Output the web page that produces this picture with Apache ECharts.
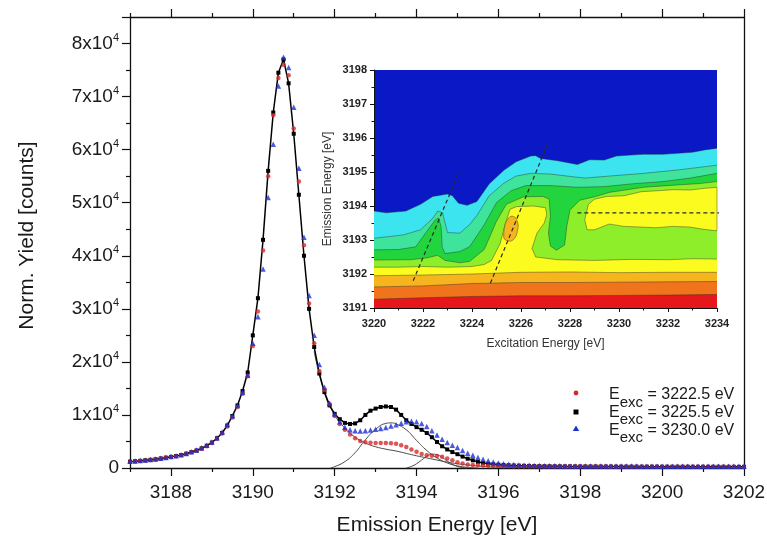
<!DOCTYPE html>
<html>
<head>
<meta charset="utf-8">
<style>
  html, body { margin: 0; padding: 0; background: #fff; }
  #chart { width: 767px; height: 536px; }
</style>
<script src="https://cdn.jsdelivr.net/npm/echarts@6/dist/echarts.min.js"></script>
</head>
<body>
<div id="chart"></div>
<script>
/* ============================================================
   RIXS spectra + contour inset
   ============================================================ */

/* ── main spectra: emission energy grid (eV) ── */
const energy = [
  3187, 3187.125, 3187.25, 3187.375, 3187.5, 3187.625, 3187.75, 3187.875,
  3188, 3188.125, 3188.25, 3188.375, 3188.5, 3188.625, 3188.75, 3188.875,
  3189, 3189.125, 3189.25, 3189.375, 3189.5, 3189.625, 3189.75, 3189.875,
  3190, 3190.125, 3190.25, 3190.375, 3190.5, 3190.625, 3190.75, 3190.875,
  3191, 3191.125, 3191.25, 3191.375, 3191.5, 3191.625, 3191.75, 3191.875,
  3192, 3192.125, 3192.25, 3192.375, 3192.5, 3192.625, 3192.75, 3192.875,
  3193, 3193.125, 3193.25, 3193.375, 3193.5, 3193.625, 3193.75, 3193.875,
  3194, 3194.125, 3194.25, 3194.375, 3194.5, 3194.625, 3194.75, 3194.875,
  3195, 3195.125, 3195.25, 3195.375, 3195.5, 3195.625, 3195.75, 3195.875,
  3196, 3196.125, 3196.25, 3196.375, 3196.5, 3196.625, 3196.75, 3196.875,
  3197, 3197.125, 3197.25, 3197.375, 3197.5, 3197.625, 3197.75, 3197.875,
  3198, 3198.125, 3198.25, 3198.375, 3198.5, 3198.625, 3198.75, 3198.875,
  3199, 3199.125, 3199.25, 3199.375, 3199.5, 3199.625, 3199.75, 3199.875,
  3200, 3200.125, 3200.25, 3200.375, 3200.5, 3200.625, 3200.75, 3200.875,
  3201, 3201.125, 3201.25, 3201.375, 3201.5, 3201.625, 3201.75, 3201.875,
  3202
];

// E_exc = 3222.5 eV
const yieldRed = [
  1150, 1250, 1330, 1420, 1520, 1630, 1760, 1920,
  2080, 2230, 2420, 2680, 2950, 3250, 3650, 4100,
  4700, 5500, 6500, 7800, 9500, 11500, 14000, 17300,
  23000, 29500, 41000, 55000, 66500, 73500, 76000, 74000,
  64000, 54000, 42000, 31000, 23500, 18300, 14700, 12000,
  9800, 8300, 7200, 6300, 5600, 5100, 4850, 4750,
  4700, 4700, 4700, 4650, 4550, 4300, 3950, 3500,
  3050, 2650, 2400, 2300, 2250, 2100, 1800, 1450,
  1100, 850, 680, 580, 500, 450, 420, 400,
  380, 370, 360, 350, 340, 330, 320, 310,
  300, 300, 290, 290, 280, 280, 280, 270,
  270, 270, 260, 260, 260, 260, 250, 250,
  250, 250, 250, 240, 240, 240, 240, 240,
  240, 230, 230, 230, 230, 230, 230, 230,
  220, 220, 220, 220, 220, 220, 220, 210,
  210
];

// E_exc = 3225.5 eV
const yieldBlack = [
  1200, 1280, 1350, 1450, 1550, 1650, 1800, 1950,
  2100, 2250, 2450, 2700, 3000, 3300, 3700, 4200,
  4800, 5600, 6600, 8000, 9800, 11800, 14500, 18000,
  25000, 32000, 43000, 56000, 67000, 74500, 77000, 72500,
  63000, 51500, 40000, 30000, 22800, 17800, 14300, 11800,
  10200, 9200, 8500, 8300, 8400, 9000, 10000, 10800,
  11200, 11500, 11600, 11500, 11000, 10000, 9000, 8300,
  7700, 7200, 6600, 5800, 4900, 4100, 3500, 3000,
  2600, 2150, 1750, 1450, 1150, 950, 800, 700,
  620, 560, 510, 470, 440, 410, 390, 370,
  350, 340, 330, 320, 310, 300, 300, 290,
  290, 280, 280, 280, 270, 270, 270, 260,
  260, 260, 260, 250, 250, 250, 250, 250,
  240, 240, 240, 240, 240, 240, 230, 230,
  230, 230, 230, 230, 230, 220, 220, 220,
  220
];

// E_exc = 3230.0 eV
const yieldBlue = [
  1250, 1330, 1400, 1500, 1600, 1700, 1850, 2000,
  2150, 2300, 2500, 2750, 3050, 3400, 3800, 4300,
  4900, 5700, 6800, 8200, 9800, 11800, 14300, 17500,
  23500, 28500, 37500, 51000, 61000, 72000, 77400, 75500,
  68000, 56500, 43500, 32500, 25000, 19500, 15200, 12200,
  10200, 8700, 7700, 7200, 7000, 6950, 7000, 7150,
  7300, 7450, 7650, 7900, 8150, 8450, 8700, 8800,
  8700, 8400, 7800, 7000, 6200, 5400, 4800, 4300,
  3850, 3300, 2800, 2400, 2000, 1650, 1380, 1150,
  950, 820, 720, 640, 580, 540, 510, 480,
  460, 440, 430, 420, 410, 400, 400, 390,
  390, 380, 380, 380, 370, 370, 370, 370,
  360, 360, 360, 360, 350, 350, 350, 350,
  350, 340, 340, 340, 340, 340, 330, 330,
  330, 330, 330, 330, 320, 320, 320, 320,
  320
];

/* ── fit components (thin grey curves) ── */
const comp1E = [3191.5, 3191.75, 3192, 3192.25, 3192.5, 3192.75, 3193, 3193.25, 3193.5, 3193.75,
                3194, 3194.25, 3194.5, 3194.75, 3195, 3195.25, 3195.5, 3195.75, 3196, 3196.5, 3197];
const comp1Y = [22000, 14200, 10000, 7500, 5800, 4700, 4000, 3550, 3200, 2750,
                2300, 1900, 1500, 1100, 800, 560, 380, 240, 150, 60, 20];
const comp2E = [3191.9, 3192, 3192.25, 3192.5, 3192.75, 3193, 3193.25, 3193.375, 3193.5,
                3193.75, 3194, 3194.25, 3194.5, 3194.75, 3195, 3195.25, 3195.5];
const comp2Y = [0, 250, 1200, 2900, 5300, 7300, 8400, 8500, 8300,
                7200, 5200, 3300, 1900, 950, 400, 130, 0];
const comp3E = [3193.75, 3193.875, 3194, 3194.125, 3194.25, 3194.375, 3194.5,
                3194.625, 3194.75, 3194.875, 3195, 3195.125, 3195.25];
const comp3Y = [0, 300, 800, 1500, 2200, 2600, 2500, 2000, 1300, 700, 300, 80, 0];

/* ── tick values / labels ── */
const mainXTicks = [3188, 3190, 3192, 3194, 3196, 3198, 3200, 3202];
const mainXMinor = [3187, 3189, 3191, 3193, 3195, 3197, 3199, 3201];
const legendLabels = ['3222.5', '3225.5', '3230.0'];

/* ── inset: contour boundaries [excitation, emission] ── */
const cyanTop = [[3220, 3193.85], [3220.5, 3193.8], [3221.3, 3193.85], [3221.9, 3194.05], [3222.4, 3194.28],
  [3223.0, 3194.35], [3223.2, 3194.3], [3223.45, 3194.08], [3223.8, 3194.02], [3224.2, 3194.13],
  [3224.7, 3194.65], [3225.3, 3195.05], [3225.8, 3195.3], [3226.4, 3195.47], [3226.6, 3195.48],
  [3226.8, 3195.4], [3227.5, 3195.33], [3228.3, 3195.22], [3228.8, 3195.36], [3229.4, 3195.35],
  [3229.9, 3195.47], [3230.5, 3195.5], [3231.0, 3195.52], [3231.8, 3195.52], [3232.4, 3195.55],
  [3233.0, 3195.58], [3233.5, 3195.65], [3234, 3195.7]];
const mintTop = [[3220, 3193.05], [3221.2, 3193.15], [3221.9, 3193.3], [3222.4, 3193.64], [3222.6, 3193.85],
  [3222.8, 3193.8], [3222.9, 3193.5], [3223.0, 3193.22], [3223.5, 3193.2], [3223.9, 3193.45],
  [3224.2, 3193.72], [3224.7, 3194.3], [3225.3, 3194.67], [3225.8, 3194.88], [3226.4, 3194.96],
  [3227.2, 3194.94], [3228.0, 3194.87], [3228.6, 3194.82], [3229.6, 3194.88], [3231.0, 3194.96],
  [3232.4, 3195.06], [3234, 3195.2]];
const greenTop = [[3220, 3192.71], [3221.0, 3192.72], [3221.7, 3192.8], [3222.1, 3193.2], [3222.5, 3193.59],
  [3222.64, 3193.65], [3222.74, 3193.39], [3222.78, 3192.8], [3222.9, 3192.6], [3223.5, 3192.66],
  [3223.9, 3192.8], [3224.5, 3193.45], [3225.0, 3194.1], [3225.6, 3194.45], [3226.2, 3194.6],
  [3227.2, 3194.6], [3228.3, 3194.55], [3229.4, 3194.57], [3230.5, 3194.65], [3231.8, 3194.72],
  [3232.9, 3194.82], [3234, 3194.96]];
const lgreenTop = [[3220, 3192.41], [3221.5, 3192.42], [3222.2, 3192.48], [3222.6, 3192.55], [3222.9, 3192.4],
  [3223.5, 3192.33], [3223.9, 3192.37], [3224.5, 3192.72], [3225.0, 3193.55], [3225.4, 3194.05],
  [3226.1, 3194.27], [3226.9, 3194.28], [3227.15, 3194.2], [3227.2, 3193.7], [3227.12, 3193.2],
  [3227.2, 3192.82], [3227.45, 3192.7], [3227.78, 3192.85], [3227.87, 3193.4], [3228.0, 3193.88],
  [3228.4, 3194.17], [3229.0, 3194.27], [3229.6, 3194.4], [3231.0, 3194.55], [3232.4, 3194.62],
  [3233.3, 3194.66], [3234, 3194.72]];
const yellowTop = [[3220, 3192.2], [3221, 3192.2], [3222, 3192.22], [3223, 3192.2], [3224, 3192.22],
  [3224.5, 3192.28], [3224.8, 3192.4], [3225.15, 3192.9], [3225.35, 3193.45], [3225.55, 3193.9],
  [3225.8, 3193.98], [3226.5, 3194.0], [3227.0, 3193.95], [3227.05, 3193.75], [3226.95, 3193.5],
  [3226.65, 3193.2], [3226.45, 3192.75], [3226.6, 3192.5], [3227.5, 3192.42], [3229, 3192.4],
  [3230.5, 3192.43], [3232, 3192.42], [3233, 3192.45], [3234, 3192.44]];
const yellowBlob = [[3228.75, 3194.05], [3229.0, 3194.2], [3229.5, 3194.28], [3230.2, 3194.3],
  [3230.9, 3194.42], [3231.6, 3194.45], [3232.2, 3194.48], [3232.9, 3194.47], [3233.5, 3194.52],
  [3234, 3194.55], [3234, 3193.27], [3233.4, 3193.32], [3232.9, 3193.38], [3232.2, 3193.4],
  [3231.5, 3193.36], [3230.9, 3193.38], [3230.2, 3193.4], [3229.6, 3193.47], [3229.0, 3193.3],
  [3228.7, 3193.3], [3228.6, 3193.6]];
const amberTop = [[3220, 3191.95], [3222, 3191.97], [3224, 3192.0], [3226, 3192.05], [3228, 3192.06],
  [3230, 3192.04], [3232, 3192.05], [3234, 3192.05]];
const amberSpot = [[3225.3, 3193.05], [3225.32, 3193.35], [3225.45, 3193.6], [3225.65, 3193.7],
  [3225.85, 3193.55], [3225.85, 3193.25], [3225.7, 3193.02], [3225.48, 3192.97]];
const orangeTop = [[3220, 3191.62], [3222, 3191.65], [3224, 3191.72], [3226, 3191.75], [3228, 3191.75],
  [3230, 3191.76], [3232, 3191.77], [3234, 3191.78]];
const redTop = [[3220, 3191.26], [3222, 3191.3], [3224, 3191.34], [3226, 3191.36], [3228, 3191.36],
  [3230, 3191.37], [3232, 3191.38], [3234, 3191.4]];

/* dashed guide lines */
const guideA = [[3221.6, 3191.8], [3223.5, 3195.05]];
const guideB = [[3224.75, 3191.73], [3227.1, 3195.85]];
const guideC = [[3228.3, 3193.8], [3234.55, 3193.8]];

/* ── styles ── */
const FONT = "'Liberation Sans', Arial, sans-serif";
const INK = '#111';
const COL_RED = '#d62a2a';
const COL_BLACK = '#000';
const COL_BLUE = '#1d2fd6';

const INSET_X = [3220, 3234];
const INSET_Y = [3191, 3198];

// 낮은 레벨 → 높은 레벨 순으로 칠함
const contourLevels = [
  { tops: [cyanTop], color: '#3be4ee' },
  { tops: [mintTop], color: '#3fe49c' },
  { tops: [greenTop], color: '#22d43e' },
  { tops: [lgreenTop], color: '#8fee2a' },
  { tops: [yellowTop], blobs: [yellowBlob], color: '#fbfb20' },
  { tops: [amberTop], blobs: [amberSpot], color: '#f6b41f' },
  { tops: [orangeTop], color: '#f0741c' },
  { tops: [redTop], color: '#e6161b' },
];

const contourRegions = [];
contourLevels.forEach(lv => {
  lv.tops.forEach(top => contourRegions.push({
    poly: top.concat([[INSET_X[1], INSET_Y[0]], [INSET_X[0], INSET_Y[0]]]),
    outline: top, color: lv.color, smooth: 0,
  }));
  (lv.blobs || []).forEach(b => contourRegions.push({
    poly: b, outline: b.concat([b[0]]), color: lv.color, smooth: b.length < 10 ? 0.5 : 0,
  }));
});

const pairs = (xs, ys) => xs.map((x, i) => [x, ys[i]]);

function renderRegion(params, api) {
  const r = contourRegions[params.dataIndex];
  return {
    type: 'group',
    children: [
      { type: 'polygon', shape: { points: r.poly.map(p => api.coord(p)), smooth: r.smooth },
        style: { fill: r.color } },
      { type: 'polyline', shape: { points: r.outline.map(p => api.coord(p)), smooth: r.smooth },
        style: { stroke: '#2a2a2a', lineWidth: 0.7, opacity: 0.6, fill: null } },
    ],
  };
}

/* ── axes helpers ── */
const tickLine = { lineStyle: { color: INK, width: 1.2 } };

function mainX(position, values, len, showLine, showLabel) {
  return {
    type: 'value', gridIndex: 0, position, min: 3187, max: 3202,
    axisLine: { show: showLine, onZero: false, lineStyle: { color: INK, width: 1.3 } },
    axisTick: Object.assign({ customValues: values, length: len }, tickLine),
    axisLabel: {
      show: showLabel, customValues: values, margin: 15,
      fontSize: 19, color: '#1a1a1a', fontFamily: FONT, formatter: v => String(v),
    },
    splitLine: { show: false },
  };
}

const supLabel = v => {
  if (v === 0) return '{n|0}';
  if (v > 80000) return '';
  return `{n|${v / 10000}x10}{p|4}`;
};

const chart = echarts.init(document.getElementById('chart'), null, { renderer: 'canvas' });

chart.setOption({
  animation: false,
  textStyle: { fontFamily: FONT },
  grid: [
    { left: 130, top: 17, width: 614, height: 451, outerBoundsMode: 'none', containLabel: false },
    { left: 374, top: 70, width: 343, height: 238, outerBoundsMode: 'none', containLabel: false,
      show: true, backgroundColor: '#0b18c6', borderWidth: 0 },
  ],
  xAxis: [
    Object.assign(mainX('bottom', mainXTicks, 8, true, true), {
      name: 'Emission Energy [eV]', nameLocation: 'middle', nameGap: 47,
      nameTextStyle: { fontSize: 21, color: '#1a1a1a', fontFamily: FONT },
    }),
    mainX('bottom', mainXMinor, 4, false, false),
    mainX('top', mainXTicks, 8, true, false),
    mainX('top', mainXMinor, 4, false, false),
    {
      type: 'value', gridIndex: 1, min: INSET_X[0], max: INSET_X[1], interval: 2,
      axisLine: { lineStyle: { color: INK, width: 1 } },
      axisTick: { length: 4, lineStyle: { color: INK, width: 1 } },
      minorTick: { show: true, splitNumber: 2, length: 2.5, lineStyle: { color: INK } },
      axisLabel: { fontSize: 11, fontWeight: 'bold', color: '#222', margin: 10, formatter: v => String(v) },
      splitLine: { show: false },
      name: 'Excitation Energy [eV]', nameLocation: 'middle', nameGap: 30,
      nameTextStyle: { fontSize: 12, color: '#333' },
    },
  ],
  yAxis: [
    {
      type: 'value', gridIndex: 0, min: 0, max: 85000, interval: 10000,
      axisLine: { show: true, lineStyle: { color: INK, width: 1.3 } },
      axisTick: { length: 8, lineStyle: { color: INK, width: 1.2 } },
      minorTick: { show: true, splitNumber: 2, length: 4, lineStyle: { color: INK, width: 1.2 } },
      axisLabel: {
        margin: 11, formatter: supLabel,
        rich: {
          n: { fontSize: 19, color: '#1a1a1a', fontFamily: FONT },
          p: { fontSize: 11, color: '#1a1a1a', fontFamily: FONT, padding: [0, 0, 12, 0] },
        },
      },
      splitLine: { show: false },
      name: 'Norm. Yield [counts]', nameLocation: 'middle', nameGap: 92,
      nameTextStyle: { fontSize: 21, color: '#1a1a1a', fontFamily: FONT, padding: [0, 0, 0, 14] },
    },
    {
      type: 'value', gridIndex: 0, position: 'right', min: 0, max: 85000,
      axisLine: { show: true, lineStyle: { color: INK, width: 1.3 } },
      axisTick: { show: false }, axisLabel: { show: false }, splitLine: { show: false },
    },
    {
      type: 'value', gridIndex: 1, min: INSET_Y[0], max: INSET_Y[1], interval: 1,
      axisLine: { show: true, lineStyle: { color: INK, width: 1 } },
      axisTick: { length: 4, lineStyle: { color: INK, width: 1 } },
      minorTick: { show: true, splitNumber: 2, length: 2.5, lineStyle: { color: INK } },
      axisLabel: { fontSize: 11, fontWeight: 'bold', color: '#222', margin: 7, formatter: v => String(v) },
      splitLine: { show: false },
      name: 'Emission Energy [eV]', nameLocation: 'middle', nameGap: 40,
      nameTextStyle: { fontSize: 12, color: '#333' },
    },
  ],
  series: [
    /* fit components */
    ...[[comp1E, comp1Y], [comp2E, comp2Y], [comp3E, comp3Y]].map(([xs, ys]) => ({
      type: 'line', xAxisIndex: 0, yAxisIndex: 0, data: pairs(xs, ys),
      showSymbol: false, smooth: true, silent: true, z: 1,
      lineStyle: { color: '#4a4a4a', width: 1 },
    })),
    {
      name: legendLabels[1], type: 'line', xAxisIndex: 0, yAxisIndex: 0,
      data: pairs(energy, yieldBlack), symbol: 'rect', symbolSize: 4, showSymbol: true, z: 3,
      lineStyle: { color: COL_BLACK, width: 1.5 }, itemStyle: { color: COL_BLACK },
    },
    {
      name: legendLabels[0], type: 'scatter', xAxisIndex: 0, yAxisIndex: 0,
      data: pairs(energy, yieldRed), symbol: 'circle', symbolSize: 4.5, z: 4,
      itemStyle: { color: COL_RED },
    },
    {
      name: legendLabels[2], type: 'scatter', xAxisIndex: 0, yAxisIndex: 0,
      data: pairs(energy, yieldBlue), symbol: 'triangle', symbolSize: 5.5, z: 5,
      itemStyle: { color: COL_BLUE },
    },
    /* inset contour */
    {
      type: 'custom', xAxisIndex: 4, yAxisIndex: 2, silent: true, z: 2,
      data: contourRegions.map(r => r.poly[0]),
      renderItem: renderRegion,
    },
    ...[guideA, guideB, guideC].map(g => ({
      type: 'line', xAxisIndex: 4, yAxisIndex: 2, data: g, showSymbol: false,
      clip: false, silent: true, z: 6,
      lineStyle: { color: '#2a2a2a', width: 1.2, type: [4, 3] },
    })),
  ],
  graphic: {
    elements: [
      { type: 'circle', shape: { cx: 576, cy: 393, r: 2.4 }, style: { fill: COL_RED } },
      { type: 'rect', shape: { x: 573.5, y: 409.5, width: 5, height: 5 }, style: { fill: COL_BLACK } },
      { type: 'polygon', shape: { points: [[576, 425.5], [579.2, 431], [572.8, 431]] }, style: { fill: COL_BLUE } },
      ...legendLabels.map((lab, i) => ({
        type: 'text', x: 609, y: 395 + i * 17.7,
        style: {
          text: `{e|E}{s|exc}{e| = ${lab} eV}`, verticalAlign: 'middle',
          rich: {
            e: { fontSize: 16, fill: '#1a1a1a', fontFamily: FONT },
            s: { fontSize: 15, fill: '#1a1a1a', fontFamily: FONT, padding: [15, 0, 0, 0] },
          },
        },
      })),
    ],
  },
});
</script>
</body>
</html>
